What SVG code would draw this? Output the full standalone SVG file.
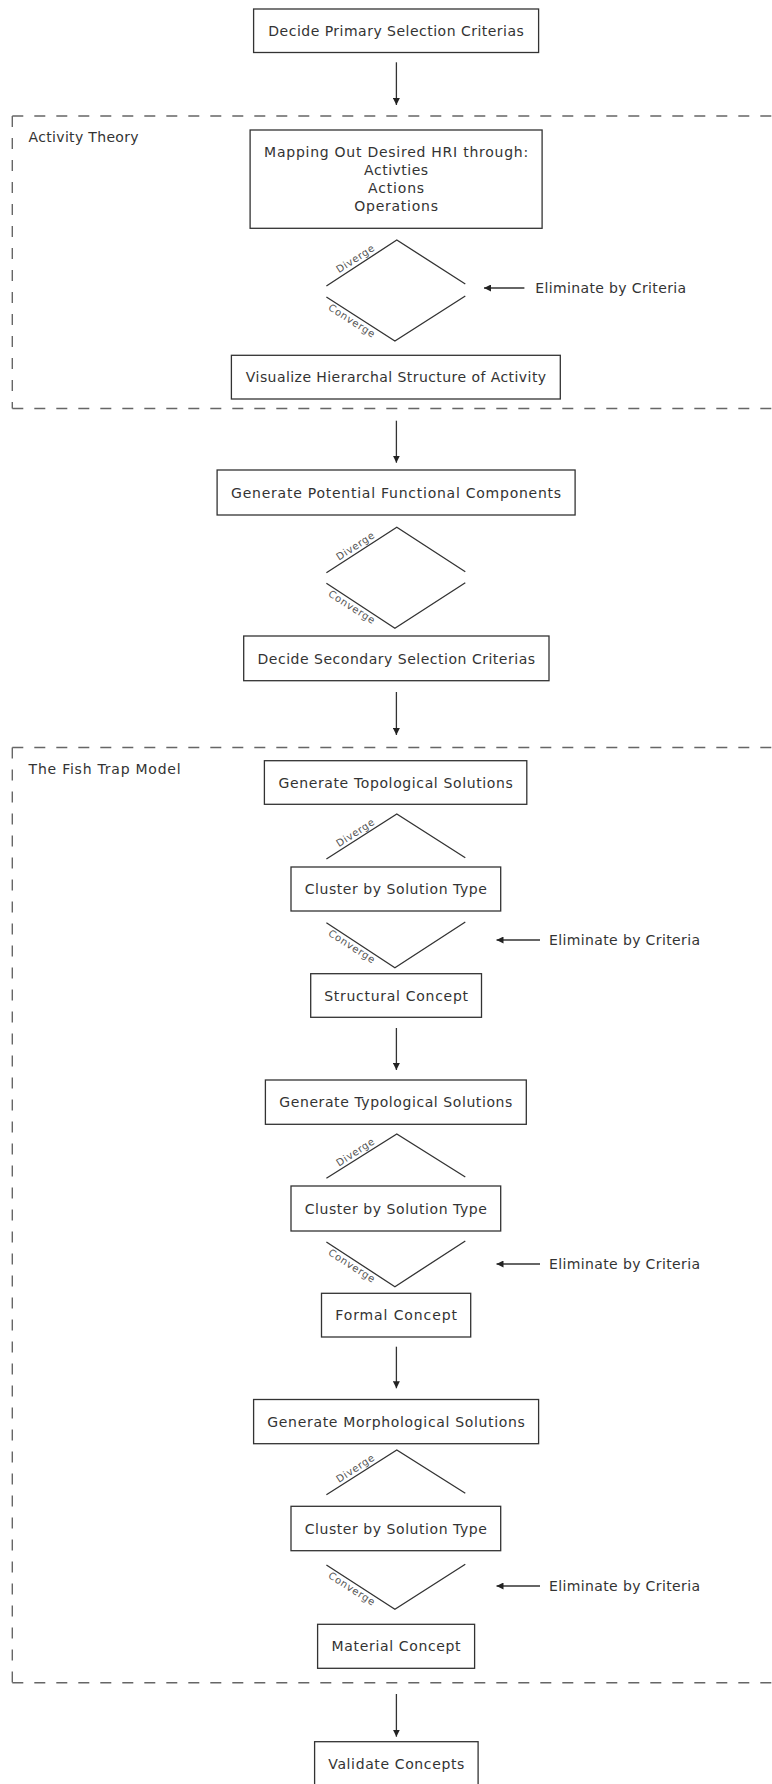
<svg xmlns="http://www.w3.org/2000/svg" width="772" height="1784" viewBox="0 0 772 1784">
  <style>
    .box rect { fill: #ffffff; stroke: #333333; stroke-width: 1.3; }
    .lbl { font-family: "DejaVu Sans", "Liberation Sans", sans-serif; font-size: 14px; fill: #333333; text-anchor: middle; }
    .grp { font-family: "DejaVu Sans", "Liberation Sans", sans-serif; font-size: 14px; fill: #333333; }
    .side { font-family: "DejaVu Sans", "Liberation Sans", sans-serif; font-size: 14px; fill: #333333; }
    .tag { font-family: "DejaVu Sans", "Liberation Sans", sans-serif; font-size: 10px; fill: #555555; text-anchor: middle; }
    .frame { fill: none; stroke: #666666; stroke-width: 1.4; stroke-dasharray: 11 11; }
    .edge { fill: none; stroke: #333333; stroke-width: 1.3; }
    .fun { fill: none; stroke: #333333; stroke-width: 1.3; }
  </style>
  <defs>
    <marker id="head" markerUnits="userSpaceOnUse" markerWidth="7" markerHeight="7" refX="7" refY="3.5" orient="auto">
      <path d="M0,0 L7,3.5 L0,7 z" fill="#222222"/>
    </marker>
  </defs>

  <rect width="772" height="1784" fill="#ffffff"/>

  <!-- dashed frames -->
  <g id="frame-activity-theory">
    <path class="frame" d="M12.3,116 H790"/>
    <path class="frame" d="M12.3,116 V408.5"/>
    <path class="frame" d="M12.3,408.5 H790"/>
    <text class="grp" x="28.6" y="142" textLength="110">Activity Theory</text>
  </g>
  <g id="frame-fish-trap">
    <path class="frame" d="M12.3,747.5 H790"/>
    <path class="frame" d="M12.3,747.5 V1682.7"/>
    <path class="frame" d="M12.3,1682.7 H790"/>
    <text class="grp" x="28.6" y="774" textLength="152">The Fish Trap Model</text>
  </g>

  <!-- process boxes -->
  <g id="n-primary" class="box">
    <rect x="253.6" y="9" width="285" height="43.5"/>
    <text class="lbl" x="396.1" y="35.8" textLength="255.5">Decide Primary Selection Criterias</text>
  </g>
  <g id="n-mapping" class="box">
    <rect x="250.1" y="130" width="292" height="98.3"/>
    <text class="lbl" x="396.1" y="156.8" textLength="264">Mapping Out Desired HRI through:</text>
    <text class="lbl" x="396.1" y="175.1" textLength="64">Activties</text>
    <text class="lbl" x="396.1" y="192.8" textLength="56">Actions</text>
    <text class="lbl" x="396.1" y="210.8" textLength="83.7">Operations</text>
  </g>
  <g id="n-visualize" class="box">
    <rect x="231.4" y="355.3" width="328.9" height="43.7"/>
    <text class="lbl" x="396" y="382.3" textLength="300.3">Visualize Hierarchal Structure of Activity</text>
  </g>
  <g id="n-functional" class="box">
    <rect x="217.1" y="470" width="358" height="45"/>
    <text class="lbl" x="396.1" y="497.6" textLength="330">Generate Potential Functional Components</text>
  </g>
  <g id="n-secondary" class="box">
    <rect x="243.7" y="636" width="305.3" height="44.7"/>
    <text class="lbl" x="396.3" y="663.5" textLength="277.5">Decide Secondary Selection Criterias</text>
  </g>
  <g id="n-topological" class="box">
    <rect x="264.4" y="760.7" width="262.4" height="43.6"/>
    <text class="lbl" x="395.6" y="787.6" textLength="234.3">Generate Topological Solutions</text>
  </g>
  <g id="n-cluster-1" class="box">
    <rect x="291" y="867" width="209.7" height="44"/>
    <text class="lbl" x="395.8" y="894.1" textLength="182.2">Cluster by Solution Type</text>
  </g>
  <g id="n-structural" class="box">
    <rect x="310.7" y="973.7" width="170.8" height="43.6"/>
    <text class="lbl" x="396.1" y="1000.6" textLength="143.8">Structural Concept</text>
  </g>
  <g id="n-typological" class="box">
    <rect x="265.4" y="1080" width="260.9" height="44.3"/>
    <text class="lbl" x="395.8" y="1107.3" textLength="233">Generate Typological Solutions</text>
  </g>
  <g id="n-cluster-2" class="box">
    <rect x="291" y="1186" width="209.7" height="45"/>
    <text class="lbl" x="395.8" y="1213.6" textLength="182.2">Cluster by Solution Type</text>
  </g>
  <g id="n-formal" class="box">
    <rect x="321.5" y="1293.3" width="149.2" height="43.7"/>
    <text class="lbl" x="396.1" y="1320.3" textLength="121.6">Formal Concept</text>
  </g>
  <g id="n-morphological" class="box">
    <rect x="253.6" y="1399.5" width="285" height="44.2"/>
    <text class="lbl" x="396.1" y="1426.7" textLength="257.6">Generate Morphological Solutions</text>
  </g>
  <g id="n-cluster-3" class="box">
    <rect x="291" y="1506.3" width="209.7" height="44.4"/>
    <text class="lbl" x="395.8" y="1533.6" textLength="182.2">Cluster by Solution Type</text>
  </g>
  <g id="n-material" class="box">
    <rect x="317.6" y="1624.3" width="157" height="44"/>
    <text class="lbl" x="396.1" y="1651.4" textLength="129">Material Concept</text>
  </g>
  <g id="n-validate" class="box">
    <rect x="314.6" y="1741.7" width="163.5" height="44.3"/>
    <text class="lbl" x="396.3" y="1768.9" textLength="136">Validate Concepts</text>
  </g>

  <!-- diverge / converge funnels -->
  <g id="funnel-1">
    <path class="fun" d="M326.4,286 L396.8,240 L465.3,284"/>
    <path class="fun" d="M326.4,297 L394.9,341 L465.3,296"/>
    <text class="tag" transform="translate(359,264.6) rotate(-33)" x="0" y="-3.5" textLength="43">Diverge</text>
    <text class="tag" transform="translate(355,315.5) rotate(32.5)" x="0" y="9.5" textLength="53">Converge</text>
  </g>
  <g id="funnel-2">
    <path class="fun" d="M326.4,572.7 L396.8,527.3 L465.3,571.7"/>
    <path class="fun" d="M326.4,583.3 L394.9,628.3 L465.3,582.7"/>
    <text class="tag" transform="translate(359,551.9) rotate(-33)" x="0" y="-3.5" textLength="43">Diverge</text>
    <text class="tag" transform="translate(355,601.8) rotate(32.5)" x="0" y="9.5" textLength="53">Converge</text>
  </g>
  <g id="funnel-3">
    <path class="fun" d="M326.4,859 L396.8,814 L465.3,857.7"/>
    <path class="fun" d="M326.4,922.7 L394.9,967.7 L465.3,922"/>
    <text class="tag" transform="translate(359,838.6) rotate(-33)" x="0" y="-3.5" textLength="43">Diverge</text>
    <text class="tag" transform="translate(355,941.2) rotate(32.5)" x="0" y="9.5" textLength="53">Converge</text>
  </g>
  <g id="funnel-4">
    <path class="fun" d="M326.4,1178.3 L396.8,1134 L465.3,1177"/>
    <path class="fun" d="M326.4,1242 L394.9,1286.7 L465.3,1241"/>
    <text class="tag" transform="translate(359,1158) rotate(-33)" x="0" y="-3.5" textLength="43">Diverge</text>
    <text class="tag" transform="translate(355,1260.5) rotate(32.5)" x="0" y="9.5" textLength="53">Converge</text>
  </g>
  <g id="funnel-5">
    <path class="fun" d="M326.4,1494.7 L396.8,1450 L465.3,1493.3"/>
    <path class="fun" d="M326.4,1565 L394.9,1609.3 L465.3,1564.3"/>
    <text class="tag" transform="translate(359,1474.2) rotate(-33)" x="0" y="-3.5" textLength="43">Diverge</text>
    <text class="tag" transform="translate(355,1583.5) rotate(32.5)" x="0" y="9.5" textLength="53">Converge</text>
  </g>

  <!-- elimination notes -->
  <g id="note-eliminate-1">
    <text class="side" x="535.2" y="293" textLength="151">Eliminate by Criteria</text>
  </g>
  <g id="note-eliminate-2">
    <text class="side" x="549" y="945" textLength="151">Eliminate by Criteria</text>
  </g>
  <g id="note-eliminate-3">
    <text class="side" x="549" y="1269" textLength="151">Eliminate by Criteria</text>
  </g>
  <g id="note-eliminate-4">
    <text class="side" x="549" y="1591" textLength="151">Eliminate by Criteria</text>
  </g>

  <!-- connectors -->
  <g id="connectors">
    <path class="edge" d="M396.4,62.3 V105" marker-end="url(#head)"/>
    <path class="edge" d="M396.4,420.7 V462.7" marker-end="url(#head)"/>
    <path class="edge" d="M396.4,692 V735" marker-end="url(#head)"/>
    <path class="edge" d="M396.4,1028 V1070" marker-end="url(#head)"/>
    <path class="edge" d="M396.4,1346.7 V1388.3" marker-end="url(#head)"/>
    <path class="edge" d="M396.4,1694 V1736.7" marker-end="url(#head)"/>
    <path class="edge" d="M524.4,288 H484" marker-end="url(#head)"/>
    <path class="edge" d="M540,940 H496.5" marker-end="url(#head)"/>
    <path class="edge" d="M540,1264 H496.5" marker-end="url(#head)"/>
    <path class="edge" d="M540,1586 H496.5" marker-end="url(#head)"/>
  </g>
</svg>
